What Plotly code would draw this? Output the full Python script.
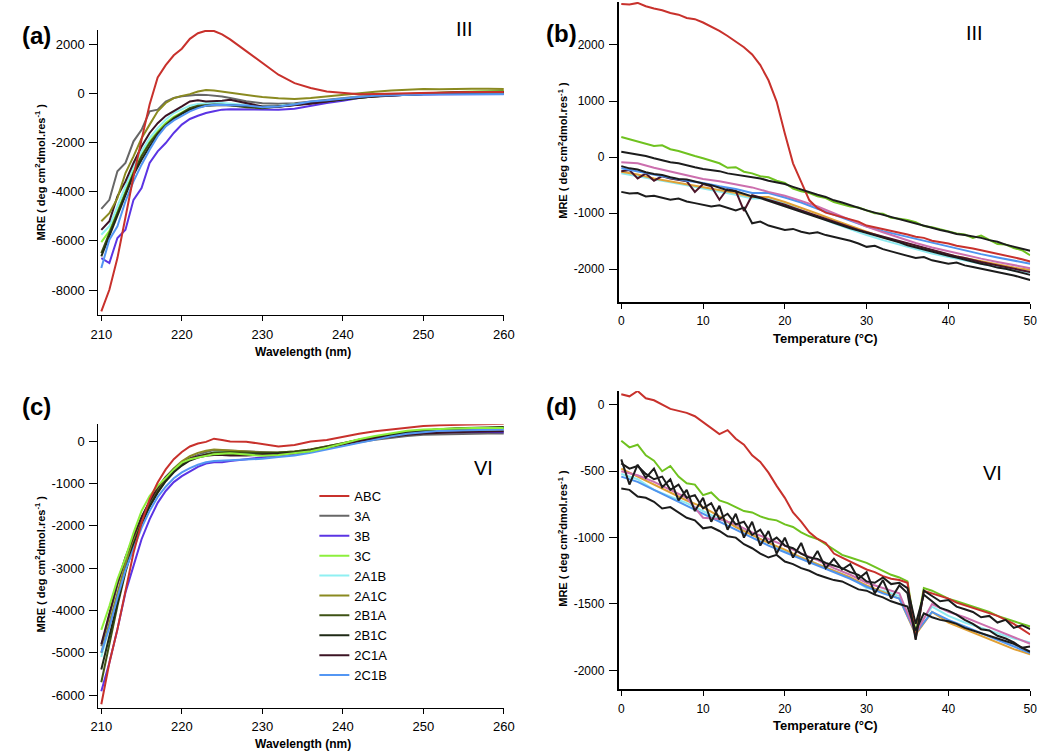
import plotly.graph_objects as go

FONT = "Liberation Sans, Arial, Helvetica, sans-serif"
W, H = 1050, 752

# ---------------- x values ----------------
wavelength = [210, 211, 212, 213, 214, 215, 216, 217, 218, 219, 220, 221, 222, 223, 224, 225, 226,
              228, 230, 232, 234, 236, 238, 240, 242, 244, 246, 248, 250, 252, 254, 256, 258, 260]
temperature_fine = list(range(0, 51))
temperature_coarse = list(range(0, 51, 2))

series_names = ["ABC", "3A", "3B", "3C", "2A1B", "2A1C", "2B1A", "2B1C", "2C1A", "2C1B"]
series_colors = ["#c8312c", "#676767", "#5b34e4", "#8def3c", "#8ff0f2", "#8a8a20",
                 "#3e5214", "#1f2a16", "#3c1424", "#5396f3"]

# ---------------- panel (a): CD spectra, III ----------------
a_ABC = [-8870, -7990, -6700, -5000, -3380, -1880, -450, 650, 1150, 1550, 1820, 2220, 2450, 2550, 2540, 2400, 2200,
         1720, 1230, 760, 420, 220, 80, 10, -30, -20, 0, 20, 30, 40, 50, 55, 60, 60]
a_3A = [-4700, -4330, -3170, -2830, -1950, -1480, -730, -660, -330, -190, -120, -80, -50, -60, -80, -130, -190,
        -320, -400, -420, -400, -330, -250, -190, -130, -90, -60, -40, -30, -20, -10, -10, 0, 0]
a_3B = [-6700, -6900, -5880, -5550, -4330, -3850, -2830, -2360, -2020, -1610, -1270, -1040, -910, -800, -730, -660, -640,
        -640, -660, -660, -620, -500, -390, -300, -190, -120, -80, -50, -40, -30, -20, -20, -20, -20]
a_3C = [-6050, -5600, -4800, -3950, -3150, -2500, -1950, -1550, -1200, -950, -760, -600, -520, -480, -460, -460, -470,
        -500, -540, -520, -460, -400, -320, -240, -170, -110, -60, -20, 10, 40, 60, 80, 90, 100]
a_2A1B = [-5750, -5400, -4600, -3780, -2970, -2360, -1820, -1410, -1070, -800, -640, -500, -430, -390, -380, -390, -410,
          -470, -520, -500, -450, -380, -300, -220, -150, -100, -60, -30, -10, 0, 10, 10, 20, 20]
a_2A1C = [-5200, -4870, -4260, -3240, -2560, -1820, -1270, -730, -390, -190, -100, -30, 80, 140, 120, 70, 50,
          -50, -150, -200, -230, -190, -120, -50, 10, 70, 120, 150, 180, 170, 190, 190, 190, 180]
a_2B1A = [-6500, -5680, -4870, -4050, -3240, -2560, -2020, -1610, -1270, -1000, -800, -600, -500, -460, -450, -460, -480,
          -560, -600, -530, -460, -390, -300, -230, -150, -100, -50, -20, 10, 30, 50, 60, 70, 80]
a_2B1C = [-6630, -5820, -5000, -4190, -3310, -2700, -2160, -1680, -1320, -1040, -830, -660, -560, -500, -480, -470, -480,
          -520, -560, -540, -480, -400, -320, -250, -180, -120, -80, -40, -10, 10, 30, 40, 50, 60]
a_2C1A = [-5550, -5200, -4190, -3580, -2830, -2160, -1610, -1210, -910, -730, -530, -330, -280, -330, -320, -300, -260,
          -390, -530, -530, -490, -420, -330, -230, -170, -120, -80, -50, -20, 0, 20, 30, 40, 40]
a_2C1B = [-7100, -5950, -5410, -4390, -3580, -2900, -2290, -1750, -1340, -1100, -910, -730, -600, -500, -460, -460, -470,
          -490, -560, -530, -450, -330, -280, -200, -150, -100, -70, -50, -40, -30, -30, -30, -30, -30]

# ---------------- panel (c): CD spectra, VI ----------------
c_ABC = [-6220, -5240, -4450, -3500, -2640, -1930, -1380, -980, -670, -430, -260, -130, -60, -20, 55, 25, -10,
         -15, -80, -130, -95, -10, 25, 100, 170, 230, 275, 320, 355, 370, 380, 385, 400, 410]
c_3A = [-4850, -4100, -3400, -2800, -2300, -1800, -1450, -1150, -900, -680, -520, -410, -330, -260, -210, -220, -230,
        -250, -270, -280, -270, -240, -180, -100, -30, 30, 80, 120, 150, 160, 170, 170, 175, 180]
c_3B = [-5910, -5240, -4450, -3580, -2950, -2320, -1850, -1460, -1180, -970, -830, -710, -610, -530, -500, -500, -470,
        -430, -390, -350, -310, -260, -180, -80, 0, 80, 130, 170, 200, 210, 215, 215, 215, 210]
c_3C = [-4460, -3900, -3270, -2760, -2170, -1650, -1300, -1060, -870, -670, -510, -430, -390, -350, -310, -300, -290,
        -320, -350, -330, -290, -240, -160, -60, 40, 120, 180, 240, 275, 290, 300, 310, 310, 310]
c_2A1B = [-5100, -4400, -3650, -2950, -2400, -1900, -1500, -1180, -920, -720, -560, -440, -360, -310, -270, -260, -260,
          -280, -300, -300, -280, -240, -170, -80, 0, 80, 140, 190, 230, 250, 260, 270, 270, 270]
c_2A1C = [-5000, -4300, -3550, -2900, -2350, -1850, -1450, -1130, -870, -650, -480, -360, -280, -230, -200, -210, -220,
          -250, -270, -270, -250, -200, -130, -50, 30, 100, 160, 210, 250, 270, 280, 290, 300, 300]
c_2B1A = [-5700, -4800, -3900, -3100, -2450, -1950, -1530, -1200, -930, -720, -560, -440, -370, -310, -270, -260, -260,
          -270, -280, -270, -250, -200, -130, -50, 30, 100, 160, 210, 250, 280, 300, 310, 320, 330]
c_2B1C = [-5400, -4600, -3800, -3050, -2450, -1950, -1550, -1220, -950, -740, -580, -460, -390, -350, -330, -330, -330,
          -320, -310, -300, -280, -230, -150, -60, 20, 90, 150, 200, 240, 270, 290, 300, 310, 320]
c_2C1A = [-4800, -4100, -3350, -2750, -2250, -1800, -1420, -1100, -850, -660, -520, -420, -360, -330, -320, -330, -340,
          -340, -330, -310, -280, -230, -160, -80, 0, 60, 110, 150, 180, 200, 210, 220, 220, 230]
c_2C1B = [-5000, -4400, -3700, -3050, -2550, -2050, -1650, -1320, -1080, -880, -740, -640, -560, -500, -470, -460, -450,
          -430, -420, -380, -340, -280, -200, -120, -40, 40, 110, 170, 210, 240, 250, 260, 270, 275]

# ---------------- panel (b): thermal melts, III ----------------
b_ABC = [2730, 2720, 2750, 2690, 2650, 2620, 2570, 2540, 2480, 2460,
         2400, 2330, 2250, 2160, 2060, 1960, 1830, 1640, 1370, 990,
         420, -110, -440, -770, -910, -990, -1030, -1070, -1110, -1150,
         -1220, -1250, -1280, -1310, -1350, -1380, -1420, -1440, -1490, -1510,
         -1540, -1580, -1600, -1630, -1660, -1690, -1720, -1750, -1780, -1820,
         -1860]
b_green = [360, 320, 290, 240, 200, 210, 140, 110, 60, 20,
           -20, -60, -110, -190, -180, -260, -290, -340, -360, -420,
           -460, -560, -610, -640, -700, -730, -800, -840, -880, -900,
           -950, -1000, -1010, -1080, -1100, -1120, -1160, -1230, -1250, -1290,
           -1320, -1360, -1380, -1440, -1400, -1480, -1550, -1560, -1620, -1660,
           -1750]
b_black_top = [95, 70, 40, 20, -20, -60, -90, -110, -150, -180,
               -210, -230, -250, -290, -310, -330, -360, -380, -420, -450,
               -480, -530, -580, -630, -670, -710, -770, -810, -860, -910,
               -950, -990, -1030, -1060, -1100, -1140, -1180, -1220, -1260, -1300,
               -1330, -1370, -1390, -1410, -1440, -1480, -1510, -1560, -1600, -1630,
               -1670]
b_black_mid = [-160, -200, -220, -270, -300, -320, -360, -390, -400, -440,
               -470, -500, -550, -590, -610, -660, -700, -730, -780, -830,
               -880, -930, -980, -1030, -1080, -1130, -1180, -1220, -1270, -1310,
               -1350, -1400, -1440, -1480, -1520, -1570, -1610, -1640, -1690, -1720,
               -1760, -1790, -1830, -1860, -1900, -1930, -1970, -1990, -2030, -2060,
               -2100]
b_black_bottom = [-620, -650, -640, -700, -690, -730, -760, -740, -790, -820,
                  -850, -880, -860, -910, -950, -900, -1180, -1150, -1220, -1260,
                  -1300, -1280, -1330, -1360, -1340, -1390, -1420, -1450, -1490, -1540,
                  -1600, -1580, -1640, -1680, -1720, -1760, -1800, -1780, -1840, -1870,
                  -1900, -1880, -1930, -1960, -1990, -2010, -2040, -2080, -2110, -2150,
                  -2190]
b_maroon = [-250, -230, -380, -290, -420, -340, -380, -400, -430, -620,
            -480, -520, -760, -560, -600, -960, -680, -720, -760, -800,
            -850, -900, -950, -1000, -1060, -1110, -1160, -1200, -1250, -1300,
            -1340, -1380, -1420, -1460, -1500, -1540, -1580, -1620, -1660, -1700,
            -1730, -1770, -1800, -1840, -1870, -1900, -1930, -1960, -1990, -2020,
            -2050]
b_pink = [-90, -110, -190, -260, -330, -390, -430, -480, -540, -620, -690, -780, -880,
          -1000, -1120, -1240, -1340, -1440, -1530, -1610, -1680, -1750, -1810, -1870, -1930, -1980]
b_blue = [-200, -260, -320, -370, -420, -460, -520, -570, -640, -640, -720, -810, -920,
          -1030, -1140, -1240, -1320, -1390, -1460, -1530, -1600, -1670, -1730, -1790, -1840, -1900]
b_cyan = [-290, -340, -400, -450, -500, -560, -610, -670, -740, -740, -830, -940, -1060,
          -1180, -1290, -1390, -1480, -1560, -1650, -1720, -1780, -1840, -1900, -1960, -2020, -2060]
b_orange = [-260, -310, -380, -430, -480, -530, -590, -640, -710, -710, -800, -900, -1010,
            -1120, -1230, -1330, -1430, -1510, -1590, -1670, -1740, -1800, -1860, -1920, -1970, -2010]

# ---------------- panel (d): thermal melts, VI ----------------
d_ABC = [80, 65, 105, 50, 35, 5, -30, -45, -60, -85,
         -130, -170, -220, -190, -255, -300, -380, -430, -510, -610,
         -700, -810, -880, -960, -1010, -1040, -1120, -1150, -1180, -1210,
         -1240, -1260, -1290, -1310, -1320, -1340, -1760, -1400, -1420, -1440,
         -1460, -1490, -1510, -1530, -1550, -1570, -1590, -1620, -1650, -1690,
         -1730]
d_green = [-270, -320, -300, -380, -420, -500, -460, -540, -590, -600,
           -680, -660, -720, -740, -770, -800, -810, -840, -860, -870,
           -900, -920, -960, -990, -1010, -1050, -1090, -1130, -1150, -1170,
           -1190, -1220, -1250, -1280, -1300, -1330, -1720, -1380, -1400, -1430,
           -1460, -1480, -1500, -1520, -1540, -1560, -1590, -1610, -1630, -1650,
           -1670]
d_black_low = [-630, -640, -690, -700, -730, -780, -770, -810, -850, -870,
               -930, -920, -950, -990, -1000, -1050, -1080, -1120, -1150, -1130,
               -1180, -1200, -1230, -1250, -1280, -1300, -1320, -1330, -1360, -1390,
               -1400, -1430, -1450, -1480, -1500, -1520, -1700, -1570, -1600, -1620,
               -1630, -1650, -1680, -1700, -1720, -1740, -1760, -1780, -1800, -1830,
               -1820]
d_black_zig = [-410, -600, -450, -550, -480, -620, -560, -720, -640, -800,
               -700, -880, -760, -940, -820, -1000, -880, -1060, -950, -1120,
               -1000, -1150, -1040, -1200, -1100, -1230, -1160, -1240, -1200, -1310,
               -1260, -1420, -1320, -1460, -1360, -1420, -1770, -1400, -1440, -1480,
               -1470, -1520, -1540, -1560, -1600, -1590, -1640, -1620, -1680, -1660,
               -1690]
d_black_3 = [-440, -480, -460, -520, -560, -540, -640, -600, -700, -680,
             -780, -740, -860, -820, -900, -880, -980, -940, -1040, -1000,
             -1060, -1080, -1120, -1150, -1160, -1190, -1210, -1230, -1260, -1280,
             -1330, -1340, -1300, -1350, -1340, -1380, -1650, -1430, -1480, -1530,
             -1550, -1580, -1620, -1650, -1690, -1700, -1740, -1760, -1790, -1830,
             -1860]
d_pink = [-500, -530, -580, -640, -700, -850, -860, -900, -960, -1010, -1060, -1120, -1170,
          -1230, -1280, -1340, -1380, -1420, -1720, -1500, -1560, -1600, -1650, -1700, -1750, -1800]
d_blue = [-540, -580, -640, -700, -760, -820, -880, -940, -1000, -1060, -1110, -1160, -1210,
          -1260, -1310, -1370, -1420, -1460, -1720, -1560, -1620, -1670, -1720, -1770, -1820, -1870]
d_cyan = [-520, -560, -640, -690, -740, -800, -860, -910, -980, -1040, -1100, -1150, -1200,
          -1250, -1300, -1380, -1400, -1440, -1700, -1520, -1590, -1640, -1680, -1720, -1760, -1790]
d_orange = [-480, -540, -600, -660, -720, -770, -840, -920, -980, -1040, -1090, -1150, -1200,
            -1250, -1300, -1360, -1410, -1460, -1730, -1560, -1640, -1690, -1740, -1790, -1840, -1880]

melt_colors = {"red": "#c8312c", "green": "#6fc21f", "black": "#1c1c1c", "pink": "#cc6fae",
               "blue": "#4f94ef", "cyan": "#8eeaf0", "orange": "#e0a035", "maroon": "#4b1428"}

# ---------------- ticks ----------------
a_yticks = [-8000, -6000, -4000, -2000, 0, 2000]
b_yticks = [-2000, -1000, 0, 1000, 2000]
c_yticks = [-6000, -5000, -4000, -3000, -2000, -1000, 0]
d_yticks = [-2000, -1500, -1000, -500, 0]
wl_ticks = [210, 220, 230, 240, 250, 260]
t_ticks = [0, 10, 20, 30, 40, 50]


def px(x):
    return x / W


def py(y):
    return 1 - y / H


fig = go.Figure()

spectra_a = [a_ABC, a_3A, a_3B, a_3C, a_2A1B, a_2A1C, a_2B1A, a_2B1C, a_2C1A, a_2C1B]
spectra_c = [c_ABC, c_3A, c_3B, c_3C, c_2A1B, c_2A1C, c_2B1A, c_2B1C, c_2C1A, c_2C1B]

draw_order_a = [1, 2, 3, 4, 6, 7, 8, 9, 5, 0]
for i in draw_order_a:
    fig.add_trace(go.Scatter(x=wavelength, y=spectra_a[i], mode="lines", name=series_names[i],
                             line=dict(color=series_colors[i], width=2), showlegend=False,
                             xaxis="x", yaxis="y"))

draw_order_c = [1, 2, 4, 5, 6, 7, 8, 9, 3, 0]
for i in draw_order_c:
    fig.add_trace(go.Scatter(x=wavelength, y=spectra_c[i], mode="lines", name=series_names[i],
                             line=dict(color=series_colors[i], width=2), showlegend=True,
                             legendrank=i + 1, xaxis="x3", yaxis="y3"))

melts_b = [
    (temperature_coarse, b_cyan, "cyan"), (temperature_coarse, b_orange, "orange"),
    (temperature_fine, b_maroon, "maroon"), (temperature_coarse, b_blue, "blue"),
    (temperature_coarse, b_pink, "pink"), (temperature_fine, b_green, "green"),
    (temperature_fine, b_ABC, "red"), (temperature_fine, b_black_mid, "black"),
    (temperature_fine, b_black_top, "black"), (temperature_fine, b_black_bottom, "black"),
]
for xs, ys, c in melts_b:
    fig.add_trace(go.Scatter(x=xs, y=ys, mode="lines", line=dict(color=melt_colors[c], width=2),
                             showlegend=False, xaxis="x2", yaxis="y2"))

melts_d = [
    (temperature_coarse, d_cyan, "cyan"), (temperature_coarse, d_orange, "orange"),
    (temperature_coarse, d_blue, "blue"), (temperature_coarse, d_pink, "pink"),
    (temperature_fine, d_green, "green"), (temperature_fine, d_ABC, "red"),
    (temperature_fine, d_black_low, "black"), (temperature_fine, d_black_3, "black"),
    (temperature_fine, d_black_zig, "black"),
]
for xs, ys, c in melts_d:
    fig.add_trace(go.Scatter(x=xs, y=ys, mode="lines", line=dict(color=melt_colors[c], width=2),
                             showlegend=False, xaxis="x4", yaxis="y4"))


def xaxis(domain, rng, ticks, anchor, lw, fs):
    return dict(domain=domain, range=rng, anchor=anchor, showline=True, linecolor="black",
                linewidth=lw, ticks="outside", ticklen=5, tickwidth=1, tickcolor="black",
                tickvals=ticks, ticktext=[str(v) for v in ticks], ticklabelstandoff=2,
                tickfont=dict(family=FONT, size=fs, color="black"),
                showgrid=False, zeroline=False)


def yaxis(domain, rng, ticks, anchor, lw, fs):
    return dict(domain=domain, range=rng, anchor=anchor, showline=True, linecolor="black",
                linewidth=lw, ticks="outside", ticklen=8, tickwidth=1, tickcolor="black",
                tickvals=ticks, ticktext=[str(v) for v in ticks], ticklabelstandoff=2,
                tickfont=dict(family=FONT, size=fs, color="black"),
                showgrid=False, zeroline=False)


left_dom = [px(92), px(505)]
right_dom = [px(622), px(1041)]

fig.update_layout(
    width=W, height=H, autosize=False,
    margin=dict(l=0, r=0, t=0, b=0),
    paper_bgcolor="white", plot_bgcolor="white",
    xaxis=xaxis(left_dom, [209.63, 260], wl_ticks, "y", 1.2, 13),
    yaxis=yaxis([py(315), py(30)], [-9016, 2580], a_yticks, "x", 1.2, 13),
    xaxis2=xaxis(right_dom, [-0.31, 50], t_ticks, "y2", 2, 12),
    yaxis2=yaxis([py(301.7), py(2)], [-2578, 2766], b_yticks, "x2", 2, 12),
    xaxis3=xaxis(left_dom, [209.63, 260], wl_ticks, "y3", 1.2, 13),
    yaxis3=yaxis([py(707.7), py(424.3)], [-6300, 395], c_yticks, "x3", 1.2, 13),
    xaxis4=xaxis(right_dom, [-0.31, 50], t_ticks, "y4", 2, 12),
    yaxis4=yaxis([py(689.3), py(391)], [-2143, 105], d_yticks, "x4", 2, 12),
    legend=dict(x=px(312), y=py(481), xanchor="left", yanchor="top",
                font=dict(family=FONT, size=13, color="black"),
                bgcolor="rgba(0,0,0,0)", borderwidth=0, itemwidth=30,
                traceorder="normal", tracegroupgap=0),
)

ytitle = "MRE ( deg cm<sup>2</sup>dmol.res<sup>-1</sup> )"
annotations = [
    dict(text="(a)", x=px(29), y=py(35), size=24, bold=True),
    dict(text="(b)", x=px(564), y=py(33), size=24, bold=True),
    dict(text="(c)", x=px(29), y=py(406), size=24, bold=True),
    dict(text="(d)", x=px(564), y=py(406), size=24, bold=True),
    dict(text="III", x=px(465), y=py(29), size=20, bold=False),
    dict(text="III", x=px(984), y=py(33), size=20, bold=False),
    dict(text="VI", x=px(484), y=py(468), size=20, bold=False),
    dict(text="VI", x=px(1003), y=py(473), size=20, bold=False),
    dict(text="Wavelength (nm)", x=px(300), y=py(352), size=12, bold=True),
    dict(text="Wavelength (nm)", x=px(300), y=py(744), size=12, bold=True),
    dict(text="Temperature (°C)", x=px(833), y=py(338), size=13, bold=True),
    dict(text="Temperature (°C)", x=px(833), y=py(725), size=13, bold=True),
    dict(text=ytitle, x=px(33), y=py(172), size=11, bold=True, angle=-90),
    dict(text=ytitle, x=px(565), y=py(150), size=11, bold=True, angle=-90),
    dict(text=ytitle, x=px(33), y=py(564), size=11, bold=True, angle=-90),
    dict(text=ytitle, x=px(565), y=py(538), size=11, bold=True, angle=-90),
]
for a in annotations:
    fig.add_annotation(text=a["text"], x=a["x"], y=a["y"], xref="paper", yref="paper",
                       xanchor="center", yanchor="middle", showarrow=False,
                       textangle=a.get("angle", 0),
                       font=dict(family=FONT, size=a["size"], color="black",
                                 weight="bold" if a["bold"] else "normal"))

fig.write_html("out.html", config={"displayModeBar": False},
               post_script="document.body.style.margin='0';document.body.style.padding='0';")
